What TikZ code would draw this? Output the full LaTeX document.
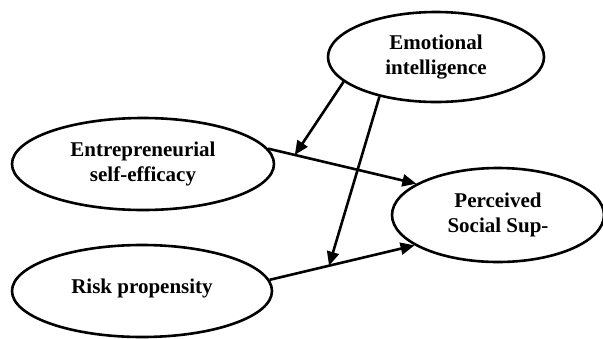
\documentclass[tikz,border=0pt]{standalone}
\usepackage{fontspec}
\setmainfont{Liberation Serif}
\usetikzlibrary{shapes.geometric,arrows.meta,calc}
\begin{document}
\begin{tikzpicture}[x=1pt,y=-1pt,
  oval/.style={draw,ellipse,line width=2.6pt,inner sep=0pt,align=center,
    font=\fontsize{21}{25}\selectfont\bfseries},
  link/.style={line width=2.6pt,-{Triangle[length=14pt,width=12pt]}}]
\useasboundingbox (0,0) rectangle (603,338);
\node[oval,minimum width=216pt,minimum height=90pt] (emo) at (436,57) {Emotional\\intelligence};
\node[oval,minimum width=262pt,minimum height=92pt] (ent) at (143,164) {Entrepreneurial\\self-efficacy};
\node[oval,minimum width=260pt,minimum height=92pt] (risk) at (142,291) {\raisebox{9pt}{Risk propensity}};
\node[oval,minimum width=212pt,minimum height=94pt] (per) at (498,215) {Perceived\\Social Sup-};
\draw[link] (ent.7) -- (per.159);
\draw[link] (risk.5) -- (per.200);
\coordinate (m1) at ($(ent.7)!0.18!(per.159)$);
\coordinate (m2) at ($(risk.5)!0.41!(per.200)$);
\draw[link] (emo.195) -- (m1);
\draw[link] (emo.215) -- (m2);
\end{tikzpicture}
\end{document}
